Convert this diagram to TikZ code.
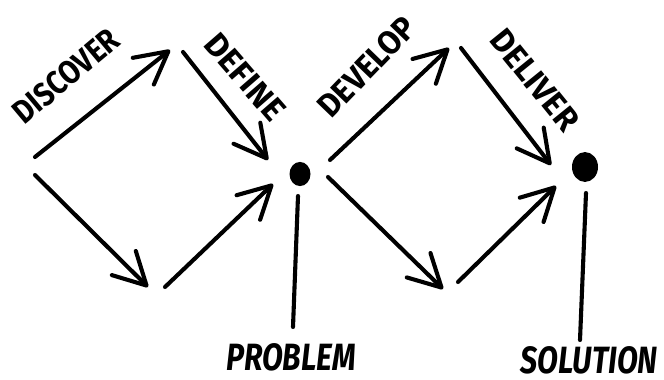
\documentclass[tikz,border=0pt]{standalone}
\usepackage{fontspec}
\setmainfont{Fira Sans}
\usetikzlibrary{arrows.meta}
\newcommand{\squeeze}[2]{{\addfontfeature{FakeStretch=#1}#2}}
\begin{document}
\begin{tikzpicture}[x=1pt,y=-1pt,
  stroke/.style={line width=4.1pt,line cap=round,line join=round},
  arr/.style={stroke,-{Straight Barb[length=32pt,width=34pt,round]}},
  stage/.style={font=\bfseries\fontsize{33}{33}\selectfont,inner sep=0pt},
  outcome/.style={font=\bfseries\itshape\fontsize{38}{38}\selectfont,inner sep=0pt,
    text height=27pt,text depth=0pt,anchor=base},
  blob/.style={fill=black,draw=none,inner sep=0pt,circle}]
\useasboundingbox (0,0) rectangle (664,380);
% coordinates
\coordinate (a1s) at (35,157);  \coordinate (a1e) at (170,50);
\coordinate (a2s) at (183,52);  \coordinate (a2e) at (268,160);
\coordinate (a3s) at (35,175);  \coordinate (a3e) at (148,287);
\coordinate (a4s) at (165,287); \coordinate (a4e) at (273,184);
\coordinate (a5s) at (330,160); \coordinate (a5e) at (449,48);
\coordinate (a6s) at (461,48);  \coordinate (a6e) at (551,165);
\coordinate (a7s) at (328,177); \coordinate (a7e) at (443,289);
\coordinate (a8s) at (458,282); \coordinate (a8e) at (556,186);
\coordinate (l1s) at (298,196); \coordinate (l1e) at (293,327);
\coordinate (l2s) at (586,193); \coordinate (l2e) at (580,340);
% dots
\node[blob,minimum width=21pt,minimum height=21pt,yscale=1.15] (problemdot) at (300,174) {};
\node[blob,minimum width=26pt,minimum height=26pt,yscale=1.15] (solutiondot) at (585,167) {};
% labels
\node[stage,rotate=40] (discover) at (66,76) {\squeeze{0.86}{DISCOVER}};
\node[stage,rotate=-49] (define) at (245,77) {DEFINE};
\node[stage,rotate=46] (develop) at (367,67) {\squeeze{0.94}{DEVELOP}};
\node[stage,rotate=-51] (deliver) at (535,80) {\squeeze{0.98}{DELIVER}};
\node[outcome] (problem) at (291,370) {\squeeze{0.8}{PROBLEM}};
\node[outcome] (solution) at (589,373) {\squeeze{0.8}{SOLUTION}};
% connectors
\draw[arr] (a1s) -- (a1e);
\draw[arr] (a2s) -- (a2e);
\draw[arr] (a3s) -- (a3e);
\draw[arr] (a4s) -- (a4e);
\draw[arr] (a5s) -- (a5e);
\draw[arr] (a6s) -- (a6e);
\draw[arr] (a7s) -- (a7e);
\draw[arr] (a8s) -- (a8e);
\draw[stroke] (l1s) -- (l1e);
\draw[stroke] (l2s) -- (l2e);
\end{tikzpicture}
\end{document}
